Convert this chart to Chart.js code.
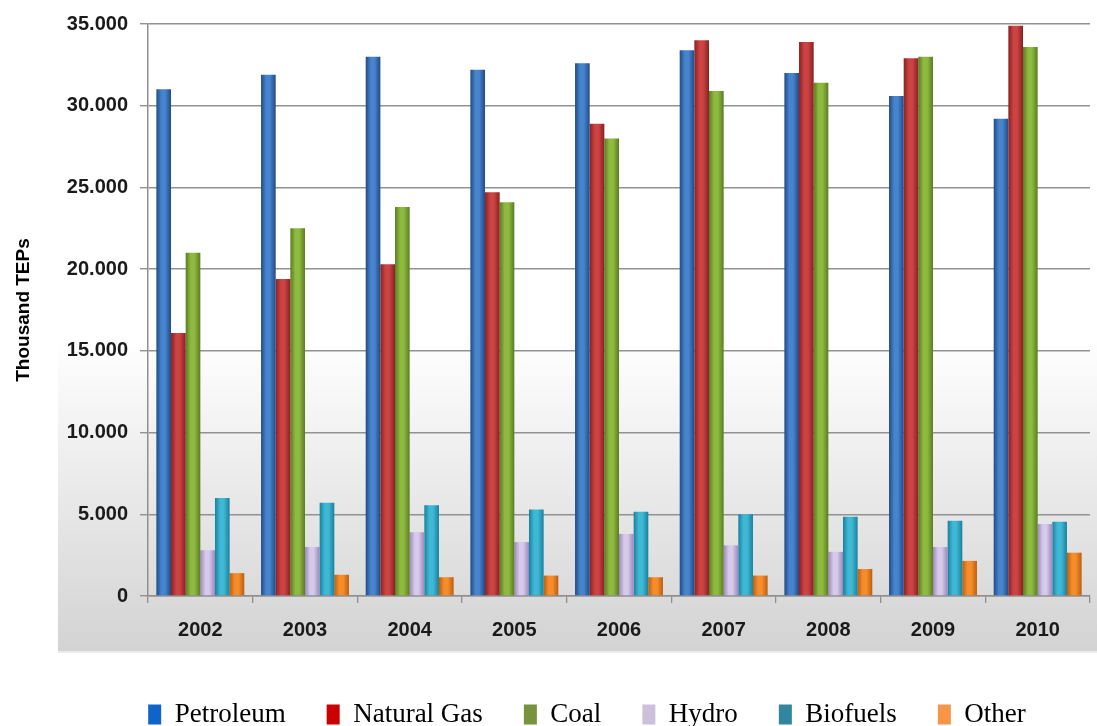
<!DOCTYPE html>
<html>
<head>
<meta charset="utf-8">
<script src="https://cdn.jsdelivr.net/npm/chart.js@4.4.1/dist/chart.umd.min.js"></script>
<style>
  body { margin: 0; background: #fff; }
  #wrap { width: 1097px; height: 726px; position: relative; }
</style>
</head>
<body>
<div id="wrap"><canvas id="energyChart" width="1097" height="726"></canvas></div>
<script>
const years = ['2002', '2003', '2004', '2005', '2006', '2007', '2008', '2009', '2010'];
const seriesNames = ['Petroleum', 'Natural Gas', 'Coal', 'Hydro', 'Biofuels', 'Other'];

const petroleum = [31000, 31900, 33000, 32200, 32600, 33400, 32000, 30600, 29200];
const naturalGas = [16100, 19400, 20300, 24700, 28900, 34000, 33900, 32900, 34900];
const coal = [21000, 22500, 23800, 24100, 28000, 30900, 31400, 33000, 33600];
const hydro = [2800, 3000, 3900, 3300, 3800, 3100, 2700, 3000, 4400];
const biofuels = [6000, 5700, 5550, 5300, 5150, 5000, 4850, 4600, 4550];
const other = [1400, 1300, 1150, 1250, 1150, 1250, 1650, 2150, 2650];

const yTicks = [0, 5000, 10000, 15000, 20000, 25000, 30000, 35000];

// bar shading: [edge, highlight]
const barShades = [
    ['#224a85', '#4684cd'],
    ['#8a2020', '#cb4343'],
    ['#5b7c22', '#8fba40'],
    ['#9a88bb', '#d6c9ea'],
    ['#19819b', '#3fb8d6'],
    ['#bd5d0c', '#f68d2c']
];
const legendColors = ['#0e64c8', '#cc0000', '#77933c', '#ccc0da', '#31859c', '#f79646'];

const allSeries = [petroleum, naturalGas, coal, hydro, biofuels, other];

function barFill(ctx) {
    const shade = barShades[ctx.datasetIndex];
    const meta = ctx.chart.getDatasetMeta(ctx.datasetIndex);
    const el = meta.data[ctx.dataIndex];
    if (!el || !el.width) return shade[1];
    const left = el.x - el.width / 2;
    const g = ctx.chart.ctx.createLinearGradient(left, 0, left + el.width, 0);
    g.addColorStop(0, shade[0]);
    g.addColorStop(0.35, shade[1]);
    g.addColorStop(0.6, shade[1]);
    g.addColorStop(1, shade[0]);
    return g;
}

const backdrop = {
    id: 'backdrop',
    beforeDraw(chart) {
        const c = chart.ctx;
        const g = c.createLinearGradient(0, 0, 0, 651);
        g.addColorStop(0, '#ffffff');
        g.addColorStop(0.52, '#ffffff');
        g.addColorStop(1, '#d3d3d3');
        c.save();
        c.fillStyle = g;
        c.fillRect(58, 0, chart.width - 58, 651);
        c.fillStyle = 'rgba(0,0,0,0.08)';
        c.fillRect(58, 651, chart.width - 58, 2);
        c.restore();
    }
};

// nudge the legend to sit where the original has it
const legendShift = {
    id: 'legendShift',
    afterLayout(chart) {
        const lg = chart.legend;
        if (!lg) return;
        const dx = 38;
        lg.left += dx;
        lg.right += dx;
        const h = lg.height;
        lg.top = 726 - h + 12;
        lg.bottom = lg.top + h;
    }
};

const chart = new Chart(document.getElementById('energyChart'), {
    type: 'bar',
    data: {
        labels: years,
        datasets: seriesNames.map((name, i) => ({
            label: name,
            data: allSeries[i],
            backgroundColor: barFill,
            borderWidth: 0,
            categoryPercentage: 0.84,
            barPercentage: 1.0
        }))
    },
    options: {
        responsive: false,
        animation: false,
        layout: {
            padding: { left: 8, right: 7, top: 22, bottom: 0 }
        },
        plugins: {
            tooltip: { enabled: false },
            legend: {
                display: true,
                position: 'bottom',
                labels: {
                    color: '#000',
                    font: { family: 'Liberation Serif', size: 27 },
                    boxWidth: 13,
                    boxHeight: 20,
                    padding: 41,
                    generateLabels: (ch) => seriesNames.map((name, i) => ({
                        text: name,
                        fillStyle: legendColors[i],
                        strokeStyle: legendColors[i],
                        lineWidth: 0,
                        datasetIndex: i,
                        hidden: false
                    }))
                }
            }
        },
        scales: {
            x: {
                offset: true,
                grid: {
                    offset: true,
                    drawOnChartArea: false,
                    color: '#8f8f8f',
                    tickLength: 7,
                    lineWidth: 1.3
                },
                border: { color: '#8f8f8f', width: 1.5 },
                ticks: {
                    color: '#1a1a1a',
                    padding: 15,
                    font: { family: 'Liberation Sans', size: 20, weight: 'bold' }
                },
                afterFit(scale) { scale.height = 52; }
            },
            y: {
                min: 0,
                max: 35000,
                afterBuildTicks(scale) {
                    scale.ticks = yTicks.map(v => ({ value: v }));
                },
                grid: {
                    color: '#929292',
                    lineWidth: 1.4,
                    tickLength: 8
                },
                border: { color: '#8f8f8f', width: 1.5 },
                ticks: {
                    color: '#1a1a1a',
                    padding: 12,
                    font: { family: 'Liberation Sans', size: 20, weight: 'bold' },
                    callback: (v) => v === 0 ? '0' : v.toLocaleString('de-DE')
                },
                title: {
                    display: true,
                    text: 'Thousand TEPs',
                    color: '#000',
                    padding: { top: 4, bottom: 4 },
                    font: { family: 'Liberation Sans', size: 19, weight: 'bold' }
                },
                afterFit(scale) { scale.width = 140; }
            }
        }
    },
    plugins: [backdrop, legendShift]
});

// second pass so bar gradients can use the laid-out bar geometry
chart.update('none');
</script>
</body>
</html>
